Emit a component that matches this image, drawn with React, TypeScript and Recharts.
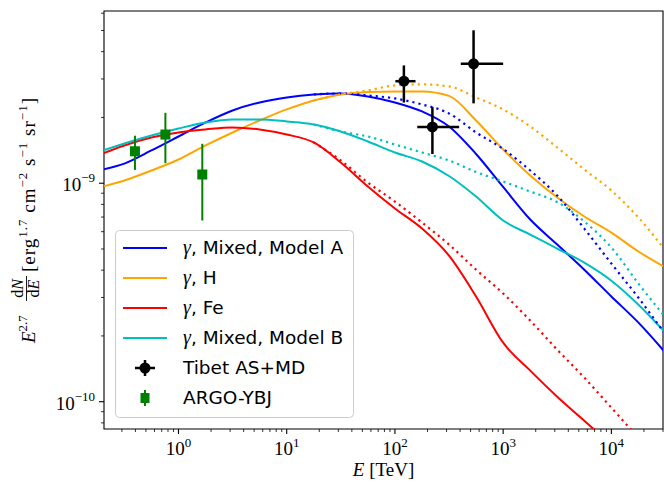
import {
  ComposedChart,
  Line,
  Scatter,
  ErrorBar,
  XAxis,
  YAxis,
  ReferenceArea,
  Legend,
  Label,
} from "recharts";

// energy grid (TeV) the model curves are sampled on
const energy = [
  0.2, 0.316, 0.562, 1, 1.78, 3.16, 5.62, 10, 17.8, 31.6, 56.2, 100, 178, 316,
  562, 1000, 1780, 3160, 5620, 10000, 17800, 31600,
];

// E^2.7 dN/dE, solid curves
const mixedA = [
  1.156e-9, 1.23e-9, 1.412e-9, 1.636e-9, 1.897e-9, 2.153e-9, 2.343e-9, 2.47e-9,
  2.549e-9, 2.576e-9, 2.496e-9, 2.343e-9, 2.13e-9, 1.818e-9, 1.361e-9, 9.61e-10,
  6.82e-10, 5.24e-10, 4.02e-10, 3.03e-10, 2.3e-10, 1.676e-10,
];
const hydrogen = [
  9.66e-10, 1.029e-9, 1.143e-9, 1.284e-9, 1.489e-9, 1.707e-9, 1.937e-9, 2.176e-9,
  2.392e-9, 2.549e-9, 2.617e-9, 2.631e-9, 2.631e-9, 2.509e-9, 1.937e-9, 1.427e-9,
  1.085e-9, 8.6e-10, 7.04e-10, 5.94e-10, 4.87e-10, 4.11e-10,
];
const iron = [
  1.368e-9, 1.489e-9, 1.619e-9, 1.707e-9, 1.762e-9, 1.8e-9, 1.762e-9, 1.671e-9,
  1.536e-9, 1.244e-9, 9.66e-10, 7.66e-10, 6.2e-10, 4.66e-10, 3.03e-10, 1.862e-10,
  1.387e-10, 1.054e-10, 8.18e-11, 6.35e-11, 4.93e-11, 3.83e-11,
];
const mixedB = [
  1.412e-9, 1.52e-9, 1.653e-9, 1.78e-9, 1.897e-9, 1.958e-9, 1.958e-9, 1.917e-9,
  1.857e-9, 1.725e-9, 1.552e-9, 1.382e-9, 1.257e-9, 1.079e-9, 8.69e-10, 6.75e-10,
  5.82e-10, 5.02e-10, 4.33e-10, 3.58e-10, 2.78e-10, 2.07e-10,
];

// dotted variants (only differ from the solid ones above ~20 TeV)
const N = null;
const mixedADot = [
  N, N, N, N, N, N, N, N,
  2.549e-9, 2.576e-9, 2.522e-9, 2.443e-9, 2.294e-9, 2.086e-9, 1.707e-9, 1.434e-9,
  1.143e-9, 8.78e-10, 6.2e-10, 4.29e-10, 2.99e-10, 2.03e-10,
];
const hydrogenDot = [
  N, N, N, N, N, N, N, N,
  2.392e-9, 2.549e-9, 2.659e-9, 2.804e-9, 2.833e-9, 2.773e-9, 2.47e-9, 2.176e-9,
  1.818e-9, 1.457e-9, 1.156e-9, 9.26e-10, 6.96e-10, 4.92e-10,
];
const ironDot = [
  N, N, N, N, N, N, N, N,
  1.536e-9, 1.271e-9, 1.007e-9, 8.24e-10, 6.61e-10, 5.24e-10, 4.02e-10, 3.13e-10,
  2.35e-10, 1.73e-10, 1.288e-10, 9.39e-11, 6.84e-11, 5.09e-11,
];
const mixedBDot = [
  N, N, N, N, N, N, N, N,
  1.857e-9, 1.725e-9, 1.636e-9, 1.504e-9, 1.382e-9, 1.271e-9, 1.125e-9, 1.018e-9,
  9.16e-10, 8.2e-10, 6.68e-10, 5.08e-10, 3.47e-10, 2.43e-10,
];

// Tibet AS+MD
const tibetE = [121, 222, 533];
const tibetELow = [101, 161, 406];
const tibetEHigh = [155, 392, 1000];
const tibetFlux = [2.93e-9, 1.81e-9, 3.52e-9];
const tibetFluxLow = [2.34e-9, 1.36e-9, 2.32e-9];
const tibetFluxHigh = [3.46e-9, 2.23e-9, 5.01e-9];

// ARGO-YBJ
const argoE = [0.396, 0.757, 1.66];
const argoFlux = [1.4e-9, 1.67e-9, 1.096e-9];
const argoFluxLow = [1.15e-9, 1.235e-9, 0.675e-9];
const argoFluxHigh = [1.65e-9, 2.1e-9, 1.515e-9];

const xMajor = [1, 10, 100, 1000, 10000];
const yMajor = [1e-10, 1e-9];
const minorMult = [2, 3, 4, 5, 6, 7, 8, 9];

const X_DOMAIN: [number, number] = [0.205, 30000];
const Y_DOMAIN: [number, number] = [7.5e-11, 6.14e-9];

const SERIF = "'Liberation Serif', 'DejaVu Serif', serif";
const SANS = "'DejaVu Sans', sans-serif";

const inRange = (v: number, d: [number, number]) => v >= d[0] * 0.9999 && v <= d[1] * 1.0001;
const withMinors = (majors: number[], d: [number, number]) => {
  const out: number[] = [];
  [majors[0] / 10, ...majors].forEach((m) => {
    out.push(m);
    minorMult.forEach((k) => out.push(m * k));
  });
  return out.filter((v) => inRange(v, d));
};
const xTicks = withMinors(xMajor, X_DOMAIN);
const yTicks = withMinors(yMajor, Y_DOMAIN);

const rows = energy.map((x, i) => ({
  x,
  mixedA: mixedA[i],
  hydrogen: hydrogen[i],
  iron: iron[i],
  mixedB: mixedB[i],
  mixedADot: mixedADot[i],
  hydrogenDot: hydrogenDot[i],
  ironDot: ironDot[i],
  mixedBDot: mixedBDot[i],
}));

const tibet = tibetE.map((x, i) => ({
  x,
  y: tibetFlux[i],
  ex: [x - tibetELow[i], tibetEHigh[i] - x],
  ey: [tibetFlux[i] - tibetFluxLow[i], tibetFluxHigh[i] - tibetFlux[i]],
}));
const argo = argoE.map((x, i) => ({
  x,
  y: argoFlux[i],
  ey: [argoFlux[i] - argoFluxLow[i], argoFluxHigh[i] - argoFlux[i]],
}));

const curves = [
  { key: "mixedA", color: "#0000ff", label: "Mixed, Model A" },
  { key: "hydrogen", color: "#ffa500", label: "H" },
  { key: "iron", color: "#ff0000", label: "Fe" },
  { key: "mixedB", color: "#00bfbf", label: "Mixed, Model B" },
];

const expText = (v: number) => {
  const e = Math.round(Math.log10(v));
  return e < 0 ? "\u2212" + Math.abs(e) : String(e);
};

function XTick(props: any) {
  const { x, y, payload } = props;
  const major = xMajor.includes(payload.value);
  return (
    <g>
      <line x1={x} x2={x} y1={y} y2={y + (major ? 5 : 3)} stroke="#000" strokeWidth={major ? 1.1 : 0.8} />
      {major && (
        <text x={x} y={y + 26} textAnchor="middle" fontFamily={SERIF} fontSize={19} fill="#000">
          10
          <tspan dy={-8} fontSize={13}>
            {expText(payload.value)}
          </tspan>
        </text>
      )}
    </g>
  );
}

function YTick(props: any) {
  const { x, y, payload } = props;
  const major = yMajor.includes(payload.value);
  return (
    <g>
      <line x1={x} x2={x - (major ? 5 : 3)} y1={y} y2={y} stroke="#000" strokeWidth={major ? 1.1 : 0.8} />
      {major && (
        <text x={x - 9} y={y + 8} textAnchor="end" fontFamily={SERIF} fontSize={19} fill="#000">
          10
          <tspan dy={-9} fontSize={13}>
            {expText(payload.value)}
          </tspan>
        </text>
      )}
    </g>
  );
}

function YLabel() {
  const sup = { dy: -8, fontSize: 13 };
  return (
    <g transform="translate(35, 220) rotate(-90)" fontFamily={SERIF} fill="#000">
      <text x={-123} y={0} fontSize={19}>
        <tspan fontStyle="italic">E</tspan>
        <tspan {...sup}>2.7</tspan>
      </text>
      <text x={-68.5} y={-12} fontSize={16} textAnchor="middle">
        d<tspan fontStyle="italic">N</tspan>
      </text>
      <line x1={-81} x2={-56} y1={-8.5} y2={-8.5} stroke="#000" strokeWidth={0.9} />
      <text x={-68.5} y={4} fontSize={16} textAnchor="middle">
        d<tspan fontStyle="italic">E</tspan>
      </text>
      <text x={-52} y={0} fontSize={19} textLength={174}>
        [erg<tspan {...sup}>1.7</tspan>
        <tspan dy={8}> cm</tspan>
        <tspan {...sup}>{"\u22122"}</tspan>
        <tspan dy={8}> s</tspan>
        <tspan {...sup}>{"\u22121"}</tspan>
        <tspan dy={8}> sr</tspan>
        <tspan {...sup}>{"\u22121"}</tspan>
        <tspan dy={8}>]</tspan>
      </text>
    </g>
  );
}

function LegendBox() {
  const rowY = [18, 48, 78, 108, 138, 168];
  return (
    <svg width={240} height={190} style={{ display: "block" }}>
      <rect x={0.5} y={0.5} width={238} height={187} rx={4} fill="#fff" fillOpacity={0.8} stroke="#cccccc" />
      {curves.map((c, i) => (
        <g key={c.key}>
          <line x1={8} x2={52} y1={rowY[i]} y2={rowY[i]} stroke={c.color} strokeWidth={2} />
          <text x={68} y={rowY[i] + 6} fontFamily={SANS} fontSize={18.5} fill="#000">
            <tspan fontFamily={SERIF} fontStyle="italic" fontSize={20}>
              γ
            </tspan>
            , {c.label}
          </text>
        </g>
      ))}
      <g>
        <line x1={20} x2={40} y1={rowY[4]} y2={rowY[4]} stroke="#000" strokeWidth={2.5} />
        <line x1={30} x2={30} y1={rowY[4] - 8} y2={rowY[4] + 8} stroke="#000" strokeWidth={2.5} />
        <circle cx={30} cy={rowY[4]} r={5.5} fill="#000" />
        <text x={68} y={rowY[4] + 6} fontFamily={SANS} fontSize={18.5} fill="#000">
          Tibet AS+MD
        </text>
      </g>
      <g>
        <line x1={30} x2={30} y1={rowY[5] - 8} y2={rowY[5] + 8} stroke="#008000" strokeWidth={2} />
        <rect x={25.5} y={rowY[5] - 5} width={9} height={10} fill="#008000" />
        <text x={68} y={rowY[5] + 6} fontFamily={SANS} fontSize={18.5} fill="#000">
          ARGO-YBJ
        </text>
      </g>
    </svg>
  );
}

export default function App() {
  return (
    <div style={{ position: "absolute", left: 0, top: 0, background: "#fff" }}>
      <ComposedChart width={664} height={483} data={rows} margin={{ top: 11, right: 1, left: 0, bottom: 0 }}>
        <XAxis
          dataKey="x"
          type="number"
          scale="log"
          domain={X_DOMAIN}
          allowDataOverflow
          ticks={xTicks}
          interval={0}
          tick={(p: any) => <XTick {...p} />}
          tickLine={false}
          tickSize={0}
          tickMargin={0}
          axisLine={false}
          height={54}
        >
          <Label
            content={() => (
              <text x={383.5} y={476} textAnchor="middle" fontFamily={SERIF} fontSize={19} fill="#000">
                <tspan fontStyle="italic">E</tspan> [TeV]
              </text>
            )}
          />
        </XAxis>
        <YAxis
          type="number"
          scale="log"
          domain={Y_DOMAIN}
          allowDataOverflow
          ticks={yTicks}
          interval={0}
          tick={(p: any) => <YTick {...p} />}
          tickLine={false}
          tickSize={0}
          tickMargin={0}
          axisLine={false}
          width={104}
        >
          <Label content={() => <YLabel />} />
        </YAxis>
        {curves.map((c) => (
          <Line
            key={c.key}
            dataKey={c.key}
            type="monotone"
            stroke={c.color}
            strokeWidth={2}
            dot={false}
            activeDot={false}
            isAnimationActive={false}
          />
        ))}
        {curves.map((c) => (
          <Line
            key={c.key + "Dot"}
            dataKey={c.key + "Dot"}
            type="monotone"
            stroke={c.color}
            strokeWidth={2.2}
            strokeDasharray="2.2 4"
            dot={false}
            activeDot={false}
            isAnimationActive={false}
          />
        ))}
        <Scatter
          data={tibet}
          dataKey="y"
          isAnimationActive={false}
          shape={(p: any) => <circle cx={p.cx} cy={p.cy} r={5.5} fill="#000" />}
        >
          <ErrorBar dataKey="ex" direction="x" width={0} stroke="#000" strokeWidth={2.5} />
          <ErrorBar dataKey="ey" direction="y" width={0} stroke="#000" strokeWidth={2.5} />
        </Scatter>
        <Scatter
          data={argo}
          dataKey="y"
          isAnimationActive={false}
          shape={(p: any) => <rect x={p.cx - 5} y={p.cy - 5} width={10} height={10} fill="#008000" />}
        >
          <ErrorBar dataKey="ey" direction="y" width={0} stroke="#008000" strokeWidth={2} />
        </Scatter>
        <ReferenceArea
          x1={X_DOMAIN[0]}
          x2={X_DOMAIN[1]}
          y1={Y_DOMAIN[0]}
          y2={Y_DOMAIN[1]}
          fill="none"
          stroke="#000"
          strokeWidth={1.1}
          ifOverflow="visible"
        />
        <Legend
          layout="vertical"
          align="center"
          verticalAlign="middle"
          wrapperStyle={{ left: 115, top: 230, width: 240, height: 190 }}
          content={() => <LegendBox />}
        />
      </ComposedChart>
    </div>
  );
}
